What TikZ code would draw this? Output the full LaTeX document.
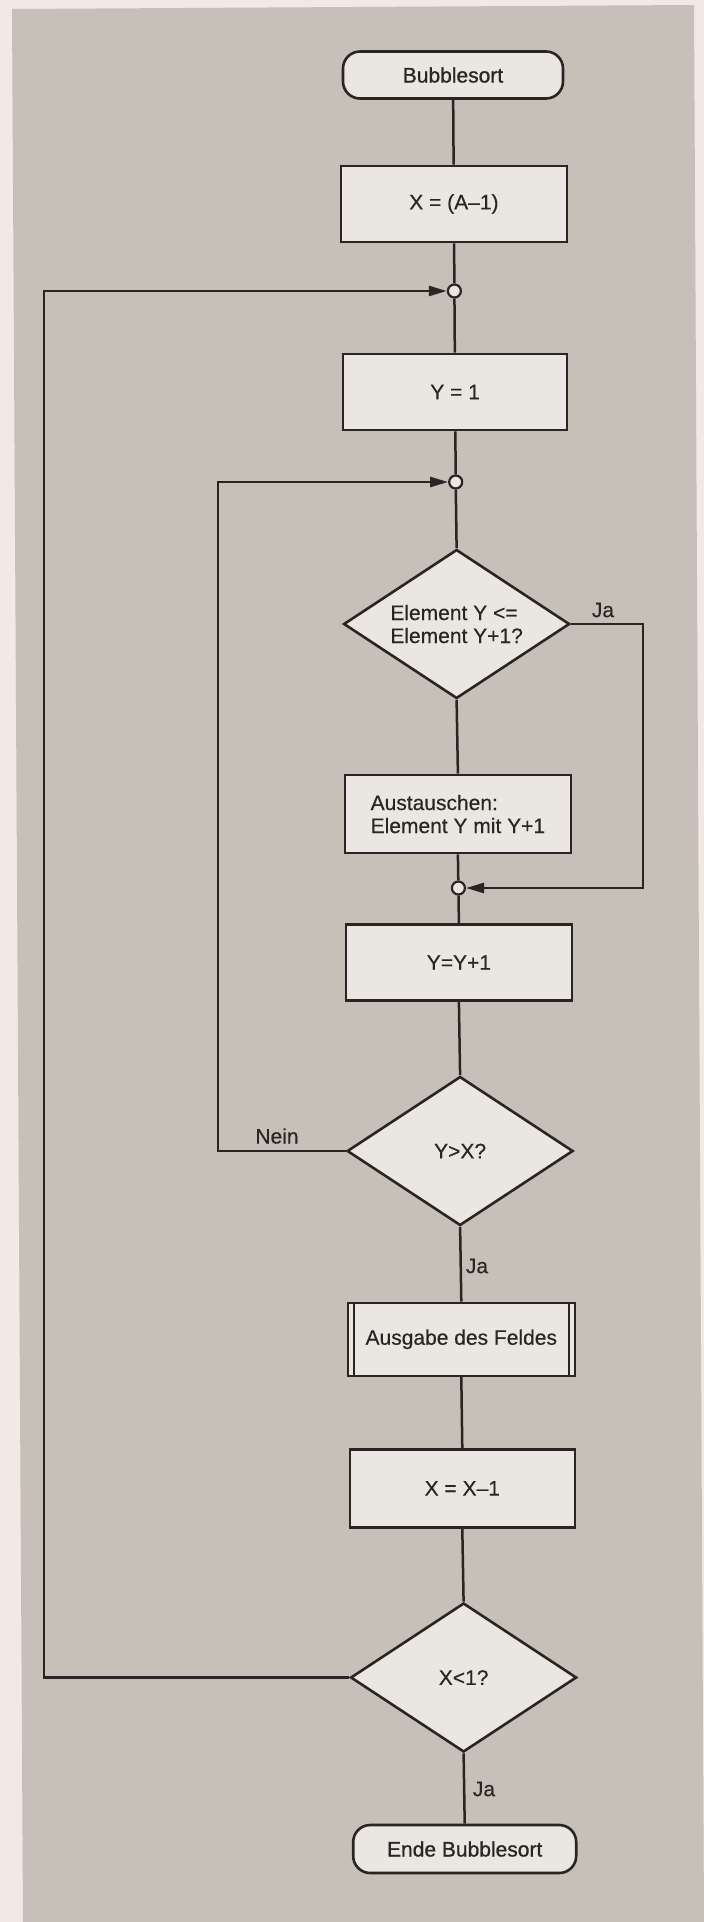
\documentclass[tikz,border=0pt]{standalone}
\usepackage{fontspec}
\setmainfont{Liberation Sans}[FakeBold=0.35]
\newfontfamily\termfont[FakeBold=0.9]{Liberation Sans}
\usetikzlibrary{shapes.geometric,arrows.meta}
\definecolor{paper}{HTML}{C6C0B9}
\definecolor{margin}{HTML}{F2E8E5}
\definecolor{boxfill}{HTML}{EAE6E1}
\definecolor{ink}{HTML}{2A2523}
\begin{document}
\begin{tikzpicture}[x=1pt,y=-1pt,
  every node/.style={font=\fontsize{21}{23}\selectfont, text=ink},
  line/.style={draw=ink, line width=2.5pt},
  procbox/.style={rectangle, draw=ink, line width=2.6pt, fill=boxfill, inner sep=0pt},
  termbox/.style={rectangle, rounded corners=17pt, draw=ink, line width=2.6pt, fill=boxfill, inner sep=0pt, font=\termfont\fontsize{21}{23}\selectfont},
  decision/.style={diamond, draw=ink, line width=2.6pt, fill=boxfill, inner sep=0pt, shape aspect=1.52, minimum width=226pt, minimum height=149pt, align=left},
  junction/.style={circle, draw=ink, line width=2.2pt, fill=boxfill, minimum size=13pt, inner sep=0pt},
  arr/.style={line, -{Triangle[length=18pt,width=10pt]}},
  lbl/.style={inner sep=0pt}
]
\useasboundingbox (0,0) rectangle (704,1922);
\fill[margin] (0,0) rectangle (704,1922);
\fill[paper] (12,9) -- (694,5) -- (704,1922) -- (23,1922) -- cycle;

\node[termbox, minimum width=220pt, minimum height=47pt] (start) at (453,75) {Bubblesort};
\node[procbox, minimum width=226pt, minimum height=76pt] (xa) at (453.9,204) {X = (A–1)};
\node[junction] (c1) at (454.4,291) {};
\node[procbox, minimum width=224pt, minimum height=76pt] (y1) at (455.1,392) {Y = 1};
\node[junction] (c2) at (455.7,482) {};
\node[decision] (d1) at (456.6,624) {Element Y <=\\Element Y+1?};
\node[procbox, minimum width=226pt, minimum height=78pt, align=left] (swap) at (457.9,814) {Austauschen:\\Element Y mit Y+1};
\node[junction] (c3) at (458.4,888) {};
\node[procbox, minimum width=226pt, minimum height=76pt] (yinc) at (458.9,962.5) {Y=Y+1};
\node[decision] (d2) at (460.1,1151) {Y>X?};
\node[procbox, minimum width=227pt, minimum height=73pt] (out) at (461.3,1339.3) {Ausgabe des Feldes};
\draw[ink, line width=2.2pt] ([xshift=7.5pt]out.north west) -- ([xshift=7.5pt]out.south west);
\draw[ink, line width=2.2pt] ([xshift=-7.5pt]out.north east) -- ([xshift=-7.5pt]out.south east);
\node[procbox, minimum width=225pt, minimum height=78pt] (xdec) at (462.3,1488.3) {X = X–1};
\node[decision] (d3) at (463.6,1677.5) {X<1?};
\node[termbox, minimum width=223pt, minimum height=48pt] (end) at (464.7,1849) {Ende Bubblesort};

\node[lbl] (ja1) at (603,610) {Ja};
\node[lbl] (nein) at (277,1136) {Nein};
\node[lbl] (ja2) at (477,1266) {Ja};
\node[lbl] (ja3) at (484,1789) {Ja};

\coordinate (oloop) at (44,1000);
\coordinate (iloop) at (218,800);
\coordinate (rloop) at (643,750);

\draw[line] (start) -- (xa);
\draw[line] (xa) -- (c1);
\draw[line] (c1) -- (y1);
\draw[line] (y1) -- (c2);
\draw[line] (c2) -- (d1.north);
\draw[line] (d1.south) -- (swap.north);
\draw[line] (swap.south) -- (c3);
\draw[line] (c3) -- (yinc.north);
\draw[line] (yinc.south) -- (d2.north);
\draw[line] (d2.south) -- (out.north);
\draw[line] (out.south) -- (xdec.north);
\draw[line] (xdec.south) -- (d3.north);
\draw[line] (d3.south) -- (end.north);

\draw[arr] (d1.east) -| (rloop) |- (c3);
\draw[arr] (d2.west) -| (iloop) |- (c2);
\draw[arr] (d3.west) -| (oloop) |- (c1);
\end{tikzpicture}
\end{document}
